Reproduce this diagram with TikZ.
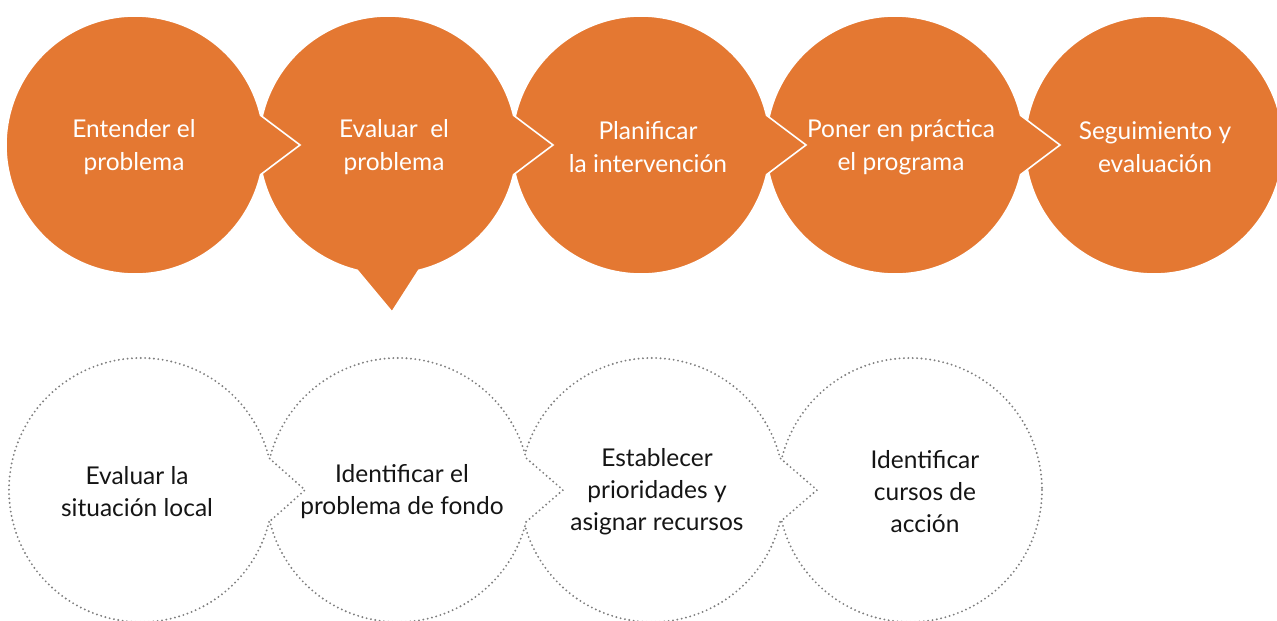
\documentclass[tikz,border=0pt]{standalone}
\usepackage{fontspec}
\setmainfont{Lato}
\usetikzlibrary{calc}
\definecolor{orng}{HTML}{E47832}
\definecolor{dotgray}{HTML}{7E7E7E}
\definecolor{txtdark}{HTML}{151515}
\tikzset{
  topshape/.style={fill=orng, draw=white, line width=1.6pt, line join=miter},
  botshape/.style={fill=white, draw=dotgray, line width=2.1pt, line cap=round, dash pattern=on 0pt off 4.4pt},
  toptext/.style={text=white, align=center, font=\fontsize{24.5}{33}\selectfont, inner sep=0pt},
  bottext/.style={text=txtdark, align=center, font=\fontsize{24.5}{32}\selectfont, inner sep=0pt},
}
\begin{document}
\begin{tikzpicture}[x=1pt,y=-1pt]
\useasboundingbox (0,0) rectangle (1277,621);
% centres
\coordinate (c1) at (135,145);
\coordinate (c2) at (388,145);
\coordinate (c3) at (641,145);
\coordinate (c4) at (895,145);
\coordinate (c5) at (1154,145);
\coordinate (d1) at (141,490);
\coordinate (d2) at (398,490);
\coordinate (d3) at (652,490);
\coordinate (d4) at (910,490);
% top row, drawn right to left
\draw[topshape] (c5) circle[radius=129];
\draw[topshape] ($(c4)+(13.3:129)$) arc[start angle=13.3, end angle=346.7, radius=129] -- ($(c4)+(165,0)$) -- cycle;
\draw[topshape] ($(c3)+(13.3:129)$) arc[start angle=13.3, end angle=346.7, radius=129] -- ($(c3)+(165,0)$) -- cycle;
\draw[topshape] ($(c2)+(13.3:129)$) arc[start angle=13.3, end angle=76.2, radius=129] -- ($(c2)+(4,167)$) -- ($(c2)+(103.8:129)$) arc[start angle=103.8, end angle=346.7, radius=129] -- ($(c2)+(165,0)$) -- cycle;
\draw[topshape] ($(c1)+(13.3:129)$) arc[start angle=13.3, end angle=346.7, radius=129] -- ($(c1)+(165,0)$) -- cycle;
% bottom row, drawn right to left
\draw[botshape] (d4) circle[radius=132];
\draw[botshape] ($(d3)+(14:132)$) arc[start angle=14, end angle=346, radius=132] -- ($(d3)+(165,0)$) -- cycle;
\draw[botshape] ($(d2)+(14:132)$) arc[start angle=14, end angle=346, radius=132] -- ($(d2)+(165,0)$) -- cycle;
\draw[botshape] ($(d1)+(14:132)$) arc[start angle=14, end angle=346, radius=132] -- ($(d1)+(164,0)$) -- cycle;
% texts
\node[toptext] (t1) at ($(c1)+(-1,2)$) {Entender el\\problema};
\node[toptext] (t2) at ($(c2)+(6,2)$) {Evaluar\ \ el\\problema};
\node[toptext] (t3) at ($(c3)+(7,2)$) {Planificar\\la intervención};
\node[toptext] (t4) at ($(c4)+(6,2)$) {Poner en práctica\\el programa};
\node[toptext] (t5) at ($(c5)+(1,2)$) {Seguimiento y\\evaluación};
\node[bottext] (b1) at ($(d1)+(-4,2)$) {Evaluar la\\situación local};
\node[bottext] (b2) at ($(d2)+(4,2)$) {Identificar el\\problema de fondo};
\node[bottext] (b3) at ($(d3)+(5,2)$) {Establecer\\prioridades y\\asignar recursos};
\node[bottext] (b4) at ($(d4)+(15,2)$) {Identificar\\cursos de\\acción};
\end{tikzpicture}
\end{document}
